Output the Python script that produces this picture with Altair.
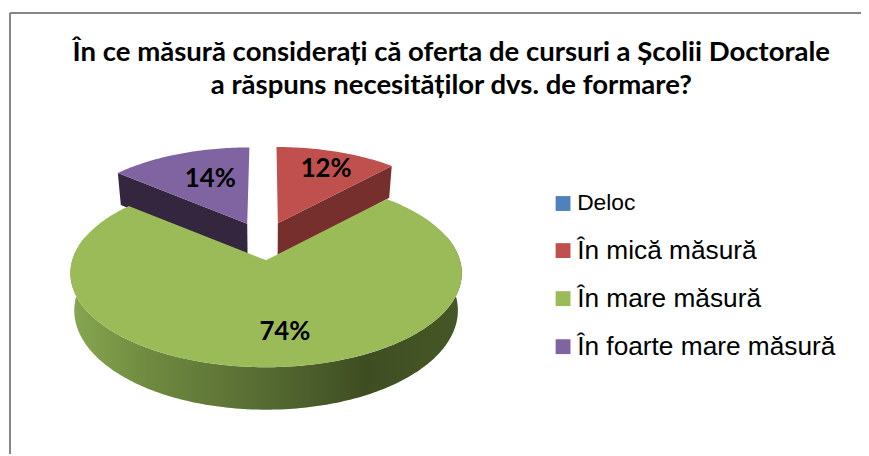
import math
import altair as alt

# ---- values ----
categories = ["Deloc", "În mică măsură", "În mare măsură", "În foarte mare măsură"]
values = [0, 12, 74, 14]
top_colors = ["#4F81BD", "#C0504D", "#9BBB59", "#8064A2"]
wall_colors = {"În mică măsură": "#772F2D", "În foarte mare măsură": "#34263F"}
green_wall_stops = [(0.0, "#87A750"), (0.2, "#6F8A40"), (0.5, "#566B33"), (0.75, "#3F4E22"), (1.0, "#465726")]
title_lines = ["În ce măsură considerați că oferta de cursuri a Școlii Doctorale",
               "a răspuns necesităților dvs. de formare?"]
label_radius = [0, 0.80, 0.71, 0.64]
label_turn = [0, 0, -3.5, 4.7]
slice_height = [93.2, 97.0, 93.2, 97.0]

# ---- 3D pie view parameters ----
CX, CY = 260.5, 252.5     # apex of the largest slice, chart coordinates
A, K = 195.7, 0.137       # perspective projection of the pie plane
DEPTH, BOTTOM_SCALE = 37.0, 0.98
EXPLODE = 0.21
STEP = 1.0
heights = dict(zip(categories, slice_height))


def project(cat, X, Y, low=False):
    d = 1 + K * Y
    s = BOTTOM_SCALE if low else 1.0
    return [CX + s * A * X / d, CY + (-heights[cat] * Y + (DEPTH if low else 0)) / d]


def direction(deg):
    r = math.radians(deg)
    return math.sin(r), math.cos(r)


# slice angles, clockwise from twelve o'clock
spans = {}
start = 0.0
for cat, v in zip(categories, values):
    spans[cat] = (start, start + v * 3.6)
    start += v * 3.6


def mid(cat):
    return sum(spans[cat]) / 2


big = "În mare măsură"
big_dir = direction(mid(big))


def offset(cat):
    dx, dy = direction(mid(cat))
    return EXPLODE * (dx - big_dir[0]), EXPLODE * (dy - big_dir[1])


def arc(cat, a0, a1, low=False):
    ox, oy = offset(cat)
    n = max(2, int(abs(a1 - a0) / STEP))
    pts = []
    for i in range(n + 1):
        dx, dy = direction(a0 + (a1 - a0) * i / n)
        pts.append(project(cat, ox + dx, oy + dy, low))
    return pts


def feature(cat, ring):
    ring = ring + [ring[0]]
    return {"type": "Feature", "properties": {"cat": cat},
            "geometry": {"type": "Polygon", "coordinates": [ring]}}


def top_face(cat):
    ox, oy = offset(cat)
    return feature(cat, [project(cat, ox, oy)] + arc(cat, *spans[cat]))


def cut_wall(cat, angle):
    ox, oy = offset(cat)
    dx, dy = direction(angle)
    return feature(cat, [project(cat, ox, oy), project(cat, ox + dx, oy + dy),
                         project(cat, ox + dx, oy + dy, True), project(cat, ox, oy, True)])


red, purple = categories[1], categories[3]
walls_back = [cut_wall(red, spans[red][1]), cut_wall(purple, spans[purple][0])]
tops_back = [top_face(red), top_face(purple)]
green_wall = [feature(big, arc(big, 75.0, 285.0) + arc(big, 285.0, 75.0, True))]
tops_front = [top_face(big)]

labels = []
for cat, v, r, turn in zip(categories, values, label_radius, label_turn):
    if v:
        ox, oy = offset(cat)
        dx, dy = direction(mid(cat) + turn)
        px, py = project(big, ox + r * dx, oy + r * dy)
        labels.append({"lon": px, "lat": py, "text": f"{v}%"})

W, H = 861, 448
proj = alt.Projection(type="identity", scale=1, translate=[0, 0])
color = alt.Color("properties.cat:N",
                  scale=alt.Scale(domain=categories, range=top_colors),
                  legend=alt.Legend(title=None, orient="none", legendX=547, legendY=182,
                                    symbolType="square", symbolSize=225, symbolStrokeWidth=0,
                                    labelFont="Liberation Sans",
                                    labelFontSize=alt.ExprRef("datum.label == 'Deloc' ? 23 : 26.5"),
                                    labelColor="#000000", labelLimit=320, labelOffset=1,
                                    rowPadding=21.5, padding=0))


def geo(feats, **mark):
    return alt.Chart(alt.Data(values=feats)).mark_geoshape(**mark).project(**proj.to_dict())


wall_layers = [geo([w], fill=wall_colors[w["properties"]["cat"]], strokeWidth=0)
               .encode(detail="properties.cat:N") for w in walls_back]
back = geo(tops_back, strokeWidth=0).encode(color=color)
gradient = alt.Gradient(gradient="linear", x1=0, x2=1, y1=0, y2=0,
                        stops=[alt.GradientStop(offset=o, color=c) for o, c in green_wall_stops])
green_side = geo(green_wall, fill=gradient, strokeWidth=0).encode(detail="properties.cat:N")
front = geo(tops_front, strokeWidth=0).encode(color=color)

text = (alt.Chart(alt.Data(values=labels))
        .mark_text(font="Lato", fontSize=26, fontWeight="bold", color="#000000",
                   align="center", baseline="middle")
        .encode(longitude="lon:Q", latitude="lat:Q", text="text:N")
        .project(**proj.to_dict()))

frame_left = alt.Chart(alt.Data(values=[{"a": 0}])).mark_rule(color="#868686", strokeWidth=2).encode(
    x=alt.value(2), y=alt.value(3), y2=alt.value(H))
frame_top = alt.Chart(alt.Data(values=[{"a": 0}])).mark_rule(color="#868686", strokeWidth=2).encode(
    x=alt.value(2), x2=alt.value(W), y=alt.value(3))

chart = alt.layer(frame_left, frame_top, *wall_layers, back, green_side, front, text).properties(
    width=W, height=H,
    padding=0,
    autosize=alt.AutoSizeParams(type="none"),
    background="white",
    title=alt.TitleParams(text=title_lines, font="Lato", fontSize=27.8, fontWeight="bold",
                          color="#000000", anchor="middle", dx=17, dy=95, lineHeight=34),
).configure_view(stroke=None)

chart.save("out.html", embed_options={"renderer": "svg", "actions": False})
